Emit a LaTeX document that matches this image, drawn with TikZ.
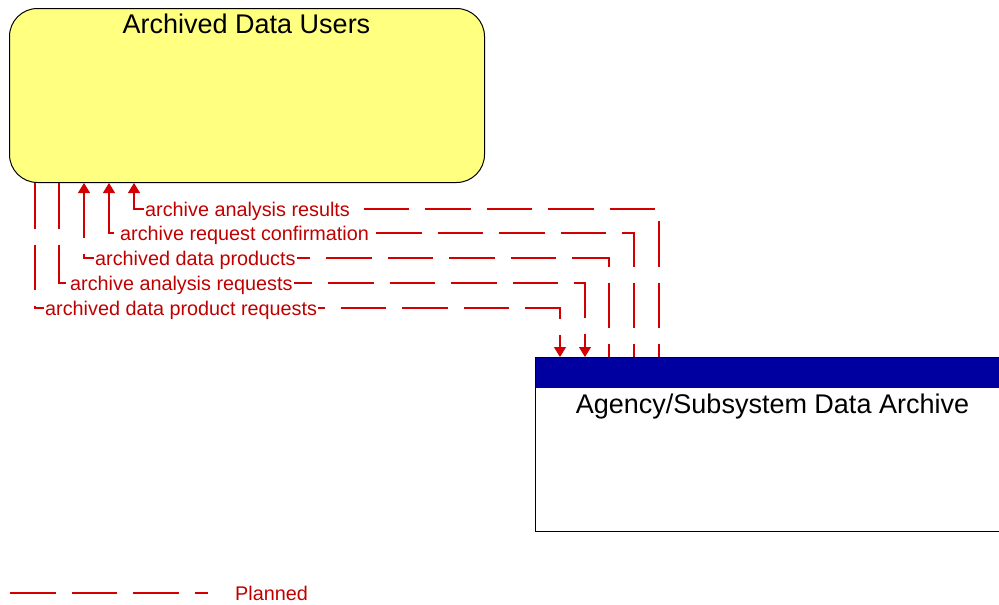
\documentclass[tikz,border=0pt]{standalone}
\usepackage{fontspec}
\setmainfont{Liberation Sans}
\usetikzlibrary{arrows.meta,calc}
\definecolor{flowred}{RGB}{210,0,0}
\definecolor{textred}{RGB}{192,0,0}
\definecolor{aduyellow}{RGB}{255,255,128}
\definecolor{hdrblue}{RGB}{0,0,160}
\begin{document}
\begin{tikzpicture}[x=1pt,y=-1pt,
 flow/.style={draw=flowred, line width=1.1pt, dash pattern=on 45.5pt off 16pt},
 tip/.style={-{Triangle[width=12pt,length=10pt,fill=flowred]}},
 tipback/.style={{Triangle[width=12pt,length=10pt,fill=flowred]}-},
 lbl/.style={text=textred, font=\fontsize{19.8}{22}\selectfont, fill=white, inner sep=1pt, anchor=base west},
 title/.style={font=\fontsize{27}{30}\selectfont, anchor=base, inner sep=0pt},
]
\useasboundingbox (0,0) rectangle (999,605);
\clip (0,0) rectangle (999,605);
\node[draw=black, line width=1pt, fill=aduyellow, rounded corners=28pt, minimum width=475pt, minimum height=174pt, inner sep=0pt, anchor=north west] (adu) at (9,8) {};
\node[title] (adut) at (246.5,33) {Archived Data Users};
\node[draw=black, line width=1pt, fill=white, minimum width=480pt, minimum height=174pt, inner sep=0pt, anchor=north west,
  path picture={\fill[hdrblue] (path picture bounding box.north west) rectangle ([yshift=-30pt]path picture bounding box.north east);}] (arch) at (535,357) {};
\node[title] (archt) at (772.5,413) {Agency/Subsystem Data Archive};
% flows from archive to users (drawn from the arrow end)
\draw[flow,tipback] (134,0 |- adu.south) -- (134,209) -- (659,209) -- (659,0 |- arch.north);
\draw[flow,tipback] (109,0 |- adu.south) -- (109,233) -- (634,233) -- (634,0 |- arch.north);
\draw[flow,tipback] (84,0 |- adu.south) -- (84,258) -- (609,258) -- (609,0 |- arch.north);
% flows from users to archive
\draw[flow,tip] (59,0 |- adu.south) -- (59,283) -- (585,283) -- (585,0 |- arch.north);
\draw[flow,tip] (35,0 |- adu.south) -- (35,308) -- (560,308) -- (560,0 |- arch.north);
% labels
\node[lbl] (l1) at (144,216) {archive analysis results};
\node[lbl] (l2) at (119,240) {archive request confirmation};
\node[lbl] (l3) at (94,265) {archived data products};
\node[lbl] (l4) at (69,290) {archive analysis requests};
\node[lbl] (l5) at (44,315) {archived data product requests};
% legend
\coordinate (lega) at (10,593);
\coordinate (legb) at (208,593);
\draw[flow] (lega) -- (legb);
\node[text=textred, font=\fontsize{19.8}{22}\selectfont, anchor=base west, inner sep=0pt] (leg) at (235,600) {Planned};
\end{tikzpicture}
\end{document}
